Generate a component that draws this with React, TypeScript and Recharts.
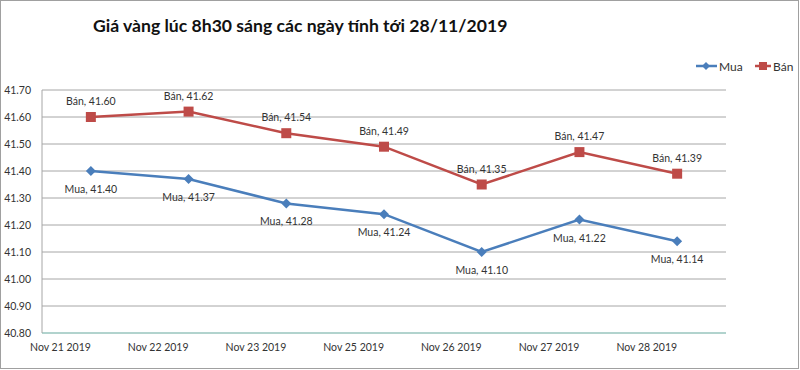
import React from 'react';
import { LineChart, Line, XAxis, YAxis, CartesianGrid, LabelList } from 'recharts';

const categories = ['Nov 21 2019', 'Nov 22 2019', 'Nov 23 2019', 'Nov 25 2019', 'Nov 26 2019', 'Nov 27 2019', 'Nov 28 2019'];
const muaValues = [41.4, 41.37, 41.28, 41.24, 41.1, 41.22, 41.14];
const banValues = [41.6, 41.62, 41.54, 41.49, 41.35, 41.47, 41.39];
const yTicks = [40.8, 40.9, 41.0, 41.1, 41.2, 41.3, 41.4, 41.5, 41.6, 41.7];

const MUA = '#4a7ebb';
const BAN = '#be4b48';
const FONT = 'Lato, "Open Sans", sans-serif';

const chartData = categories.map((name, i) => ({ name, mua: muaValues[i], ban: banValues[i] }));

const Diamond = (props: any) => {
  const { cx, cy } = props;
  if (cx == null || cy == null) return null;
  return <path d={`M${cx},${cy - 5}L${cx + 5},${cy}L${cx},${cy + 5}L${cx - 5},${cy}Z`} fill={MUA} />;
};

const Square = (props: any) => {
  const { cx, cy } = props;
  if (cx == null || cy == null) return null;
  return <rect x={cx - 5} y={cy - 5} width={10} height={10} fill={BAN} />;
};

const makeLabel = (name: string, dy: number) => (props: any) => {
  const { x, y, value } = props;
  return (
    <text x={x} y={y + dy} textAnchor="middle" fontSize={10.5} fill="#333" fontFamily={FONT}>
      {`${name}, ${Number(value).toFixed(2)}`}
    </text>
  );
};

// Excel puts the category text so it ends at the point
const XTick = (props: any) => {
  const { x, y, payload } = props;
  return (
    <text x={x} y={y + 10} textAnchor="end" fontSize={10.5} fill="#333" fontFamily={FONT}>
      {payload.value}
    </text>
  );
};

const LegendBox = () => (
  <svg width={104} height={16} style={{ position: 'absolute', left: 695, top: 57 }}>
    <line x1={0} y1={8} x2={21} y2={8} stroke={MUA} strokeWidth={2.5} />
    <path d="M10,4L14,8L10,12L6,8Z" fill={MUA} />
    <text x={23} y={12.5} fontSize={12} fill="#333" fontFamily={FONT}>Mua</text>
    <line x1={59} y1={8} x2={75} y2={8} stroke={BAN} strokeWidth={2.5} />
    <rect x={63} y={4} width={8} height={8} fill={BAN} />
    <text x={77} y={12.5} fontSize={12} fill="#333" fontFamily={FONT}>Bán</text>
  </svg>
);

export default function App() {
  return (
    <div style={{ position: 'absolute', left: 0, top: 0, width: 797, height: 367, border: '1px solid #a0a0a0', background: '#fff' }}>
      <div style={{ position: 'absolute', left: 92, top: 14, fontFamily: FONT, fontWeight: 700, fontSize: 17.6, color: '#111' }}>
        Giá vàng lúc 8h30 sáng các ngày tính tới 28/11/2019
      </div>
      <LegendBox />
      <LineChart width={797} height={367} data={chartData} margin={{ top: 89, right: 72, left: 1, bottom: 3 }}>
        <CartesianGrid vertical={false} stroke="#a6a6a6" />
        <XAxis
          dataKey="name"
          scale="band"
          tickLine={false}
          axisLine={{ stroke: '#8fd3c8' }}
          tick={<XTick />}
          height={32}
        />
        <YAxis
          domain={[40.8, 41.7]}
          ticks={yTicks}
          interval={0}
          width={40}
          tickLine={false}
          axisLine={{ stroke: '#a6a6a6' }}
          tick={{ fontSize: 10.5, fill: '#333', fontFamily: FONT }}
          tickFormatter={(v: number) => v.toFixed(2)}
          tickMargin={5}
        />
        <Line dataKey="mua" stroke={MUA} strokeWidth={2.5} dot={<Diamond />} activeDot={false} isAnimationActive={false}>
          <LabelList dataKey="mua" content={makeLabel('Mua', 22)} />
        </Line>
        <Line dataKey="ban" stroke={BAN} strokeWidth={2.5} dot={<Square />} activeDot={false} isAnimationActive={false}>
          <LabelList dataKey="ban" content={makeLabel('Bán', -12)} />
        </Line>
      </LineChart>
    </div>
  );
}
